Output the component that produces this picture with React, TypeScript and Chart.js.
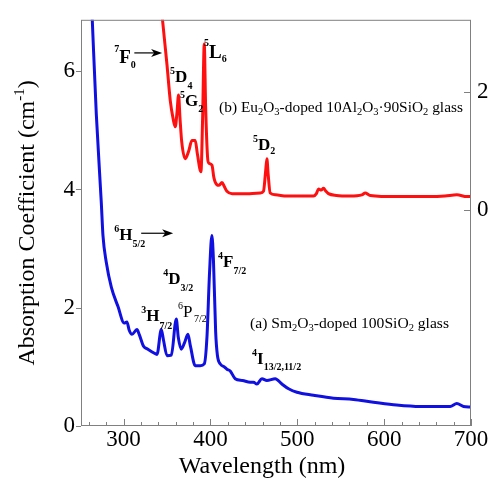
import React, { useEffect, useRef } from 'react';
import { Chart, registerables } from 'chart.js';

Chart.register(...registerables);

const FONT = "'Liberation Serif', 'Times New Roman', Times, serif";

// (a) Sm2O3-doped 100SiO2 glass — left axis (cm^-1)
const SM_WAVELENGTH = [
  262, 264, 268.6, 274.4, 276.3, 280.1, 285.9, 293.6, 300.8, 303.9, 306.5, 309.7, 315.4, 318,
  323, 328, 334.5, 338.5, 343.4, 346, 350, 355, 360.7, 363, 366.4, 370, 374.1, 377, 382.5,
  388.3, 392.9, 396, 399, 401.7, 403.5, 406, 408, 411.3, 416, 419, 422.8, 428.5, 437, 445.8,
  449.6, 453.5, 459.3, 465, 474.6, 482.3, 490, 499.6, 518.7, 541.7, 564.7, 587.7, 610.7,
  641.5, 676, 683.7, 691.3, 700,
];
const SM_ABSORPTION = [
  7.55, 6.86, 5.28, 3.77, 3.22, 2.77, 2.35, 2.02, 1.74, 1.76, 1.62, 1.55, 1.63, 1.55,
  1.35, 1.3, 1.24, 1.21, 1.63, 1.45, 1.19, 1.2, 1.81, 1.5, 1.3, 1.4, 1.55, 1.35, 1.02,
  1.02, 1.05, 1.5, 2.6, 3.22, 2.8, 1.6, 1.2, 1.05, 1.0, 0.96, 0.93, 0.8, 0.77, 0.74,
  0.74, 0.71, 0.8, 0.77, 0.8, 0.71, 0.63, 0.57, 0.52, 0.47, 0.45, 0.4, 0.36,
  0.33, 0.33, 0.38, 0.33, 0.32,
];

// (b) Eu2O3-doped 10Al2O3·90SiO2 glass — right axis
const EU_WAVELENGTH = [
  342, 344.9, 350, 353.8, 357, 359.5, 361.5, 363.3, 365, 367, 371, 375, 378.7, 382.5, 385,
  389.1, 391, 392.9, 394.5, 396.7, 398, 401.8, 404, 407.5, 410, 413.3, 416, 419, 425, 430.5,
  445, 457.3, 461.1, 463.5, 465, 466.5, 468.8, 475, 488, 518.7, 522, 524.4, 527.5, 530.2,
  533, 535.9, 545, 560.9, 574.4, 578.2, 584, 614.6, 653, 670, 683.7, 695.2, 700,
];
const EU_ABSORPTION = [
  3.7, 3.21, 2.46, 1.85, 1.55, 1.41, 1.65, 1.95, 1.55, 1.15, 0.87, 1.0, 1.18, 1.18, 0.95,
  0.65, 1.55, 2.81, 1.75, 0.9, 0.8, 0.76, 0.55, 0.43, 0.42, 0.47, 0.4, 0.32, 0.28, 0.28,
  0.28, 0.29, 0.32, 0.65, 0.87, 0.6, 0.29, 0.26, 0.24, 0.24, 0.28, 0.36, 0.34, 0.37,
  0.32, 0.28, 0.25, 0.24, 0.26, 0.29, 0.25, 0.23, 0.23, 0.24, 0.26, 0.23, 0.23,
];

const X_TICKS = [300, 400, 500, 600, 700];
const X_MINOR_STEP = 20;
const Y_LEFT_TICKS = [0, 2, 4, 6];
const Y_RIGHT_TICKS = [0, 2];

const X_MIN = 251;
const X_MAX = 700;
const Y_MIN = 0;
const Y_MAX = 6.87;
const RIGHT_SHIFT = 3.65;

const BLUE = '#1010e0';
const RED = '#ff1010';
const FRAME = '#808080';

type Part = { t: string; s: number; b?: boolean; d?: number };

const sup = (t: string, d = -8): Part => ({ t, s: 10, b: true, d });
const sub = (t: string, d = 6): Part => ({ t, s: 10, b: true, d });
const big = (t: string, s = 17): Part => ({ t, s, b: true });

// annotation anchors in data coordinates [wavelength, left-axis value]
const LABELS: { x: number; y: number; parts: Part[] }[] = [
  { x: 289.3, y: 6.14, parts: [sup('7', -11), big('F', 19), sub('0', 5)] },
  { x: 353.6, y: 5.81, parts: [sup('5'), big('D'), sub('4', 7)] },
  { x: 365.1, y: 5.41, parts: [sup('5'), big('G'), sub('2')] },
  { x: 392.7, y: 6.23, parts: [sup('5', -12), big('L', 19), sub('6', 4)] },
  { x: 449.0, y: 4.66, parts: [sup('5'), big('D'), sub('2', 4)] },
  { x: 289.3, y: 3.14, parts: [sup('6'), big('H'), sub('5/2', 7)] },
  { x: 345.6, y: 2.4, parts: [sup('4'), big('D'), sub('3/2', 7)] },
  { x: 320.3, y: 1.77, parts: [sup('3'), big('H'), sub('7/2', 8)] },
  {
    x: 362.8, y: 1.84,
    parts: [{ t: '6', s: 10, d: -8 }, { t: 'P', s: 17 }, { t: ' ', s: 6 }, { t: '7/2', s: 10, d: 5 }],
  },
  { x: 408.8, y: 2.69, parts: [sup('4'), big('F'), sub('7/2', 7)] },
  { x: 447.9, y: 1.05, parts: [sup('4'), big('I'), sub('13/2,11/2', 6)] },
  {
    x: 445.6, y: 1.65,
    parts: [
      { t: '(a) Sm', s: 15.6 }, { t: '2', s: 10.5, d: 3 }, { t: 'O', s: 15.6 }, { t: '3', s: 10.5, d: 3 },
      { t: '-doped 100SiO', s: 15.6 }, { t: '2', s: 10.5, d: 3 }, { t: ' glass', s: 15.6 },
    ],
  },
  {
    x: 410.0, y: 5.31,
    parts: [
      { t: '(b) Eu', s: 15.4 }, { t: '2', s: 10.5, d: 3 }, { t: 'O', s: 15.4 }, { t: '3', s: 10.5, d: 3 },
      { t: '-doped 10Al', s: 15.4 }, { t: '2', s: 10.5, d: 3 }, { t: 'O', s: 15.4 }, { t: '3', s: 10.5, d: 3 },
      { t: '\u00b790SiO', s: 15.4 }, { t: '2', s: 10.5, d: 3 }, { t: ' glass', s: 15.4 },
    ],
  },
];

// arrows [x1, x2, y] in data coordinates
const ARROWS = [
  [312.4, 344.4, 6.31],
  [320.3, 357.1, 3.26],
];

function fontOf(p: Part) {
  return `${p.b ? 'bold ' : ''}${p.s}px ${FONT}`;
}

function drawParts(ctx: CanvasRenderingContext2D, x: number, y: number, parts: Part[], center = false) {
  let total = 0;
  const widths = parts.map((p) => {
    ctx.font = fontOf(p);
    const w = ctx.measureText(p.t).width;
    total += w;
    return w;
  });
  let cx = center ? x - total / 2 : x;
  parts.forEach((p, i) => {
    ctx.font = fontOf(p);
    ctx.fillText(p.t, cx, y + (p.d || 0));
    cx += widths[i];
  });
}

const overlay = {
  id: 'overlay',
  afterDraw(chart: any) {
    const { ctx, chartArea: a, scales } = chart;
    const xs = scales.x;
    const yl = scales.y;
    const yr = scales.y2;
    ctx.save();
    ctx.strokeStyle = FRAME;
    ctx.lineWidth = 1;
    ctx.strokeRect(a.left + 0.5, a.top + 0.5, a.right - a.left - 1, a.bottom - a.top - 1);

    ctx.beginPath();
    for (let v = 260; v <= X_MAX; v += X_MINOR_STEP) {
      const px = Math.round(xs.getPixelForValue(v)) + 0.5;
      const len = X_TICKS.includes(v) ? 7 : 4;
      ctx.moveTo(px, a.bottom);
      ctx.lineTo(px, a.bottom - len);
    }
    X_TICKS.forEach((v) => {
      const px = Math.round(xs.getPixelForValue(v)) + 0.5;
      ctx.moveTo(px, a.bottom);
      ctx.lineTo(px, a.bottom - 7);
    });
    Y_LEFT_TICKS.forEach((v) => {
      const py = Math.round(yl.getPixelForValue(v)) + 0.5;
      ctx.moveTo(a.left - 5, py);
      ctx.lineTo(a.left, py);
    });
    Y_RIGHT_TICKS.forEach((v) => {
      const py = Math.round(yr.getPixelForValue(v)) + 0.5;
      ctx.moveTo(a.right - 7, py);
      ctx.lineTo(a.right, py);
    });
    ctx.stroke();

    ctx.fillStyle = '#000';
    ctx.textBaseline = 'alphabetic';
    ctx.textAlign = 'left';
    LABELS.forEach((l) => {
      drawParts(ctx, xs.getPixelForValue(l.x), yl.getPixelForValue(l.y), l.parts);
    });

    ctx.strokeStyle = '#000';
    ctx.lineWidth = 1.2;
    ARROWS.forEach(([x1, x2, yv]) => {
      const px1 = xs.getPixelForValue(x1);
      const px2 = xs.getPixelForValue(x2);
      const py = yl.getPixelForValue(yv);
      ctx.beginPath();
      ctx.moveTo(px1, py);
      ctx.lineTo(px2 - 6, py);
      ctx.stroke();
      ctx.beginPath();
      ctx.moveTo(px2, py);
      ctx.lineTo(px2 - 11, py - 4);
      ctx.lineTo(px2 - 8, py);
      ctx.lineTo(px2 - 11, py + 4);
      ctx.closePath();
      ctx.fill();
    });

    // axis titles
    drawParts(ctx, 262, 473, [{ t: 'Wavelength (nm)', s: 24 }], true);
    ctx.save();
    ctx.translate(34, (a.top + a.bottom) / 2);
    ctx.rotate(-Math.PI / 2);
    drawParts(
      ctx, 0, 0,
      [{ t: 'Absorption Coefficient (cm', s: 24 }, { t: '-1', s: 15, d: -10 }, { t: ')', s: 24 }],
      true,
    );
    ctx.restore();
    ctx.restore();
  },
};

export default function App() {
  const ref = useRef<HTMLCanvasElement | null>(null);
  useEffect(() => {
    if (!ref.current) return;
    const tickFont = { family: FONT, size: 23, lineHeight: 1.2 };
    const chart = new Chart(ref.current, {
      type: 'line',
      data: {
        datasets: [
          {
            label: 'Sm2O3-doped 100SiO2',
            data: SM_WAVELENGTH.map((x, i) => ({ x, y: SM_ABSORPTION[i] })),
            borderColor: BLUE,
            borderWidth: 3,
            pointRadius: 0,
            cubicInterpolationMode: 'monotone',
            borderJoinStyle: 'round',
            yAxisID: 'y',
            clip: 0,
          },
          {
            label: 'Eu2O3-doped 10Al2O3·90SiO2',
            data: EU_WAVELENGTH.map((x, i) => ({ x, y: EU_ABSORPTION[i] })),
            borderColor: RED,
            borderWidth: 3,
            pointRadius: 0,
            cubicInterpolationMode: 'monotone',
            borderJoinStyle: 'round',
            yAxisID: 'y2',
            clip: 0,
          },
        ],
      },
      options: {
        animation: false,
        responsive: true,
        maintainAspectRatio: false,
        layout: { padding: { top: 15, left: 0, right: 0, bottom: 0 } },
        plugins: { legend: { display: false }, tooltip: { enabled: false } },
        scales: {
          x: {
            type: 'linear',
            min: X_MIN,
            max: X_MAX,
            grid: { display: false, drawTicks: false },
            border: { display: false },
            ticks: { font: tickFont, color: '#000', padding: 0, maxRotation: 0, autoSkip: false },
            afterBuildTicks: (s: any) => {
              s.ticks = X_TICKS.map((value) => ({ value }));
            },
            afterFit: (s: any) => {
              s.height = 52;
            },
          },
          y: {
            position: 'left',
            min: Y_MIN,
            max: Y_MAX,
            grid: { display: false, drawTicks: false },
            border: { display: false },
            ticks: { font: tickFont, color: '#000', padding: 6 },
            afterBuildTicks: (s: any) => {
              s.ticks = Y_LEFT_TICKS.map((value) => ({ value }));
            },
            afterFit: (s: any) => {
              s.width = 81;
            },
          },
          y2: {
            position: 'right',
            min: Y_MIN - RIGHT_SHIFT,
            max: Y_MAX - RIGHT_SHIFT,
            grid: { display: false, drawTicks: false },
            border: { display: false },
            ticks: { font: tickFont, color: '#000', padding: 6 },
            afterBuildTicks: (s: any) => {
              s.ticks = Y_RIGHT_TICKS.map((value) => ({ value }));
            },
            afterFit: (s: any) => {
              s.width = 20;
            },
          },
        },
      },
      plugins: [overlay],
    } as any);
    return () => chart.destroy();
  }, []);
  return (
    <div style={{ position: 'fixed', left: 0, top: 0, width: 491, height: 478, background: '#fff' }}>
      <canvas ref={ref} />
    </div>
  );
}
